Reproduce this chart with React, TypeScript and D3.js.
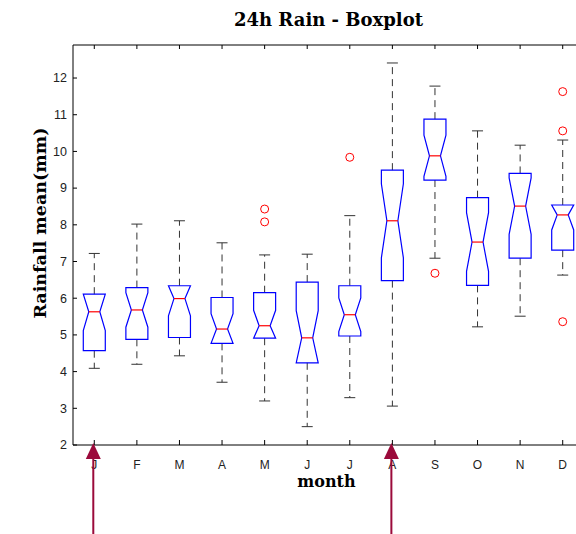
import React from "react";
import * as d3 from "d3";

// Monthly 24h rainfall statistics (mm)
const months = ["Jan", "Feb", "Mar", "Apr", "May", "Jun", "Jul", "Aug", "Sep", "Oct", "Nov", "Dec"];
const monthLabels = ["J", "F", "M", "A", "M", "J", "J", "A", "S", "O", "N", "D"];
const lowerWhisker = [4.09, 4.2, 4.43, 3.71, 3.2, 2.5, 3.29, 3.06, 7.09, 5.22, 5.51, 6.63];
const q1 = [4.57, 4.88, 4.93, 4.77, 4.91, 4.24, 4.97, 6.48, 9.22, 6.35, 7.09, 7.31];
const median = [5.63, 5.68, 5.99, 5.16, 5.25, 4.92, 5.55, 8.11, 9.88, 7.53, 8.51, 8.27];
const q3 = [6.11, 6.29, 6.34, 6.02, 6.15, 6.44, 6.34, 9.49, 10.88, 8.74, 9.4, 8.54];
const upperWhisker = [7.22, 8.02, 8.11, 7.51, 7.18, 7.2, 8.25, 12.41, 11.78, 10.56, 10.17, 10.31];
const notchLo = [5.12, 5.21, 5.52, 4.74, 4.84, 4.18, 5.09, 7.1, 9.32, 6.73, 7.74, 7.86];
const notchHi = [6.15, 6.15, 6.46, 5.58, 5.67, 5.66, 6.01, 9.12, 10.44, 8.33, 9.28, 8.68];
const outliers: number[][] = [[], [], [], [], [8.43, 8.08], [], [9.84], [], [6.68], [], [], [11.63, 10.56, 5.36]];
const yTicks = [2, 3, 4, 5, 6, 7, 8, 9, 10, 11, 12];
const markedMonths = ["Jan", "Aug"];

const W = 576;
const H = 534;
const left = 73;
const right = 584;
const top = 45;
const bottom = 445;

const x = d3.scaleBand<string>().domain(months).range([left, right]).padding(0);
const y = d3.scaleLinear().domain([2, 12.9]).range([bottom, top]);
const cx = (m: string) => (x(m) as number) + x.bandwidth() / 2;

const hw = 11; // half box width
const capHw = 5.5;
const tickLen = 4;
const arrowColor = "#9b0a3b";

function boxPath(i: number): string {
  const c = cx(months[i]);
  const lo = Math.max(notchLo[i], q1[i]);
  const hi = Math.min(notchHi[i], q3[i]);
  const pts: [number, number][] = [
    [c - hw, y(q1[i])],
    [c - hw, y(lo)],
    [c - hw / 2, y(median[i])],
    [c - hw, y(hi)],
    [c - hw, y(q3[i])],
    [c + hw, y(q3[i])],
    [c + hw, y(hi)],
    [c + hw / 2, y(median[i])],
    [c + hw, y(lo)],
    [c + hw, y(q1[i])],
  ];
  return (d3.line()(pts) as string) + "Z";
}

export default function App() {
  const tickFont = "'Liberation Sans', Arial, sans-serif";
  const labelFont = "'DejaVu Serif', serif";
  return (
    <svg
      width={W}
      height={H}
      style={{ position: "absolute", left: 0, top: 0, background: "#fff" }}
    >
      <text x={(left + right) / 2} y={26} textAnchor="middle" fontFamily={labelFont} fontWeight="bold" fontSize={18} fill="#000">
        24h Rain - Boxplot
      </text>

      {/* axes frame */}
      <g stroke="#000" strokeWidth={1} fill="none">
        <line x1={left} y1={top} x2={left} y2={bottom} />
        <line x1={left} y1={bottom} x2={right} y2={bottom} />
        <line x1={left} y1={top} x2={right} y2={top} />
        <line x1={right} y1={top} x2={right} y2={bottom} />
      </g>

      {/* y ticks */}
      {yTicks.map((t) => (
        <g key={t}>
          <line x1={left} x2={left + tickLen} y1={y(t)} y2={y(t)} stroke="#000" />
          <text x={left - 6} y={y(t)} dy="0.35em" textAnchor="end" fontFamily={tickFont} fontSize={12.5} fill="#222">
            {t}
          </text>
        </g>
      ))}

      {/* x ticks */}
      {months.map((m, i) => (
        <g key={m}>
          <line x1={cx(m)} x2={cx(m)} y1={bottom} y2={bottom - tickLen - 1} stroke="#000" />
          <line x1={cx(m)} x2={cx(m)} y1={top} y2={top + tickLen} stroke="#000" />
          <text x={cx(m)} y={469} textAnchor="middle" fontFamily={tickFont} fontSize={12} fill="#222">
            {monthLabels[i]}
          </text>
        </g>
      ))}

      <text x={(left + right) / 2 - 2} y={487} textAnchor="middle" fontFamily={labelFont} fontWeight="bold" fontSize={16} fill="#000">
        month
      </text>
      <text
        transform={`translate(46,${223}) rotate(-90)`}
        textAnchor="middle"
        fontFamily={labelFont}
        fontWeight="bold"
        fontSize={17.5}
        fill="#000"
      >
        Rainfall mean(mm)
      </text>

      {/* boxes */}
      {months.map((m, i) => {
        const c = cx(m);
        return (
          <g key={"b" + m}>
            <g stroke="#333" strokeWidth={1} fill="none">
              <line x1={c} x2={c} y1={y(q3[i])} y2={y(upperWhisker[i])} strokeDasharray="7,5" />
              <line x1={c} x2={c} y1={y(q1[i])} y2={y(lowerWhisker[i])} strokeDasharray="7,5" />
              <line x1={c - capHw} x2={c + capHw} y1={y(upperWhisker[i])} y2={y(upperWhisker[i])} />
              <line x1={c - capHw} x2={c + capHw} y1={y(lowerWhisker[i])} y2={y(lowerWhisker[i])} />
            </g>
            <path d={boxPath(i)} fill="none" stroke="#0000ff" strokeWidth={1.2} />
            <line x1={c - hw / 2} x2={c + hw / 2} y1={y(median[i])} y2={y(median[i])} stroke="#ff0000" strokeWidth={1.2} />
            {outliers[i].map((v, k) => (
              <circle key={k} cx={c} cy={y(v)} r={4} fill="none" stroke="#ff0000" strokeWidth={1} />
            ))}
          </g>
        );
      })}

      {/* marker arrows */}
      {markedMonths.map((m) => {
        const c = cx(m) - 1;
        return (
          <g key={"a" + m}>
            <line x1={c} x2={c} y1={456} y2={H} stroke={arrowColor} strokeWidth={2} />
            <path d={`M${c},${bottom - 2} L${c - 7.5},${459} L${c + 7.5},${459} Z`} fill={arrowColor} />
          </g>
        );
      })}
    </svg>
  );
}
